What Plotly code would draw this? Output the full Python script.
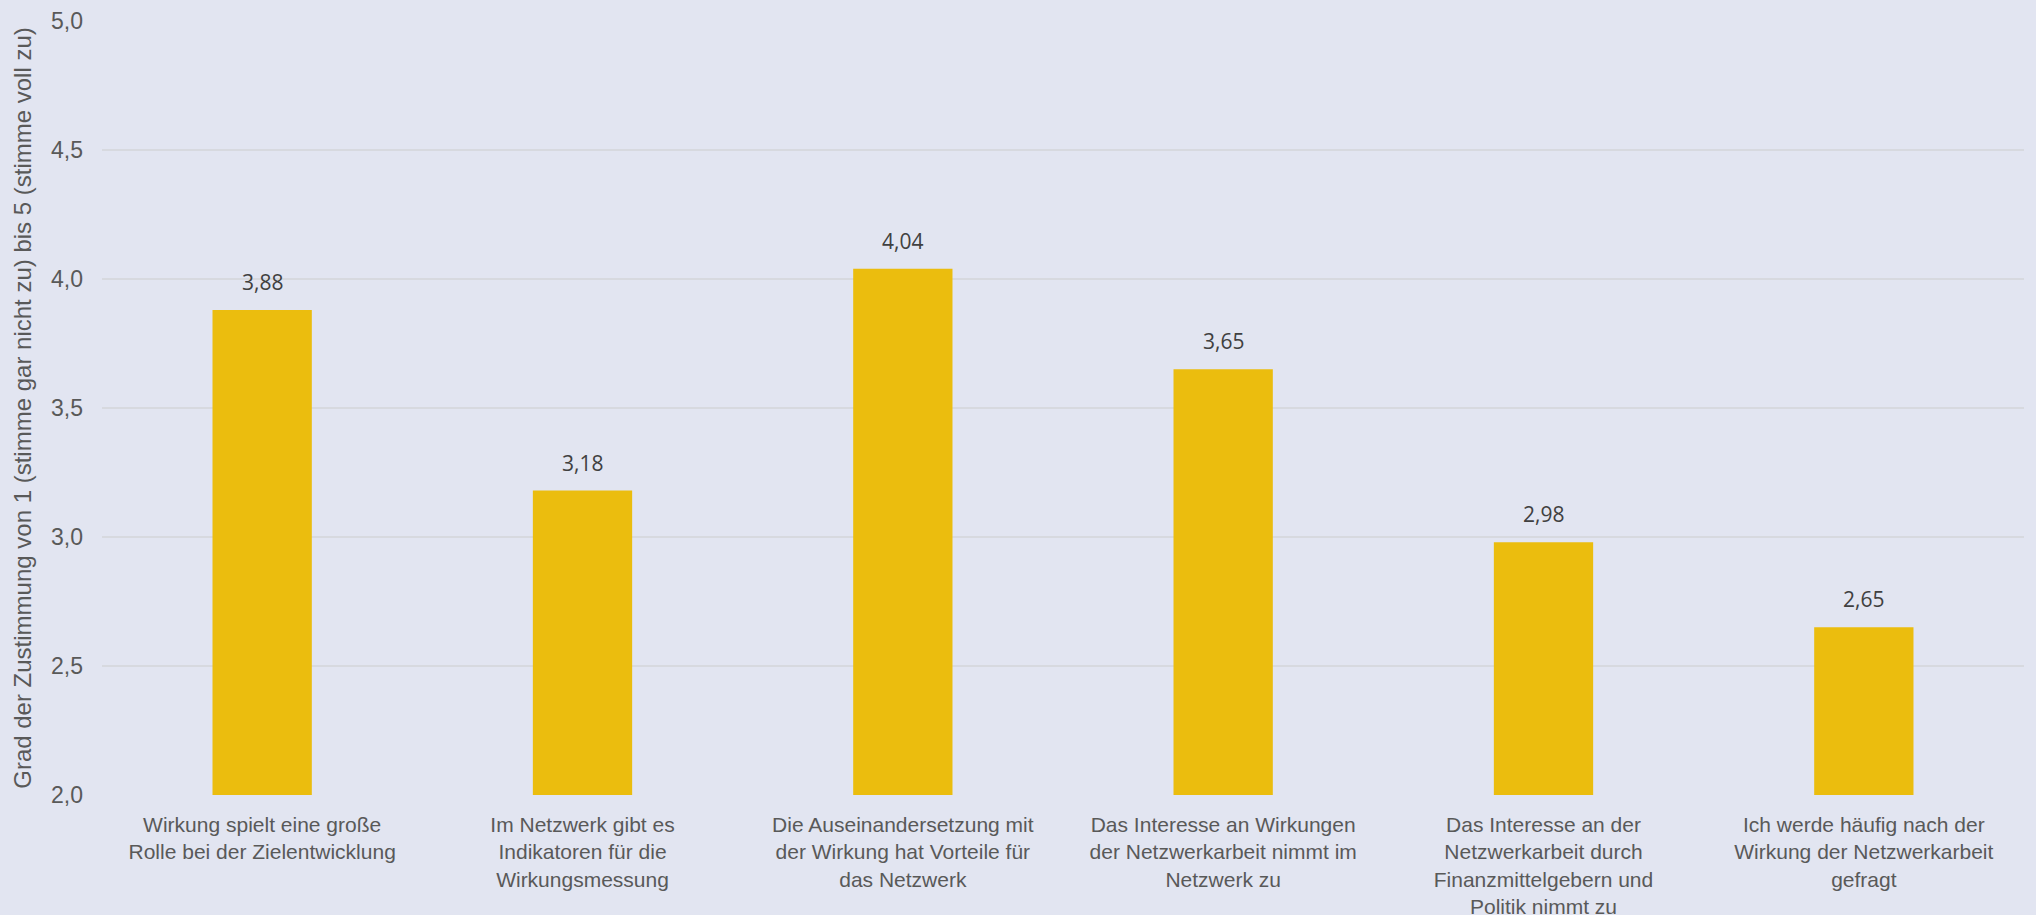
import plotly.graph_objects as go

categories = [
    "Wirkung spielt eine große<br>Rolle bei der Zielentwicklung",
    "Im Netzwerk gibt es<br>Indikatoren für die<br>Wirkungsmessung",
    "Die Auseinandersetzung mit<br>der Wirkung hat Vorteile für<br>das Netzwerk",
    "Das Interesse an Wirkungen<br>der Netzwerkarbeit nimmt im<br>Netzwerk zu",
    "Das Interesse an der<br>Netzwerkarbeit durch<br>Finanzmittelgebern und<br>Politik nimmt zu",
    "Ich werde häufig nach der<br>Wirkung der Netzwerkarbeit<br>gefragt",
]
values = [3.88, 3.18, 4.04, 3.65, 2.98, 2.65]
value_labels = ["3,88", "3,18", "4,04", "3,65", "2,98", "2,65"]
y_title = "Grad der Zustimmung von 1 (stimme gar nicht zu) bis 5 (stimme voll zu)"

BG = "#E2E5F1"
BAR = "#EBBD0E"

fig = go.Figure()
fig.add_trace(go.Bar(x=categories, y=values, marker=dict(color=BAR, line=dict(width=0)),
                     hoverinfo="x+y"))

for c, v, t in zip(categories, values, value_labels):
    fig.add_annotation(x=c, y=v, text=t, showarrow=False, yanchor="bottom", yshift=12,
                       font=dict(family="Open Sans, sans-serif", size=21, color="#404040"))

fig.update_layout(
    width=2036, height=915,
    margin=dict(l=102, r=12, t=21, b=120),
    paper_bgcolor=BG, plot_bgcolor=BG,
    separators=",.",
    bargap=0.69,
    showlegend=False,
    xaxis=dict(
        tickfont=dict(family="Liberation Sans, Arial, sans-serif", size=21, color="#595959"),
        showgrid=False, showline=False, ticks="", automargin=False,
        ticklabelstandoff=15,
    ),
    yaxis=dict(
        range=[2, 5], dtick=0.5, tickformat=".1f",
        tickfont=dict(family="Liberation Sans, Arial, sans-serif", size=23, color="#595959"),
        gridcolor="#D7D9DF", gridwidth=2, showline=False, zeroline=False,
        ticks="", ticklabelstandoff=18, automargin=False,
        title=dict(text=y_title, standoff=12,
                   font=dict(family="Liberation Sans, Arial, sans-serif", size=24, color="#595959")),
    ),
)

fig.write_html("out.html", config={"displayModeBar": False},
               post_script="document.body.style.margin='0px';document.body.style.overflow='hidden';")
